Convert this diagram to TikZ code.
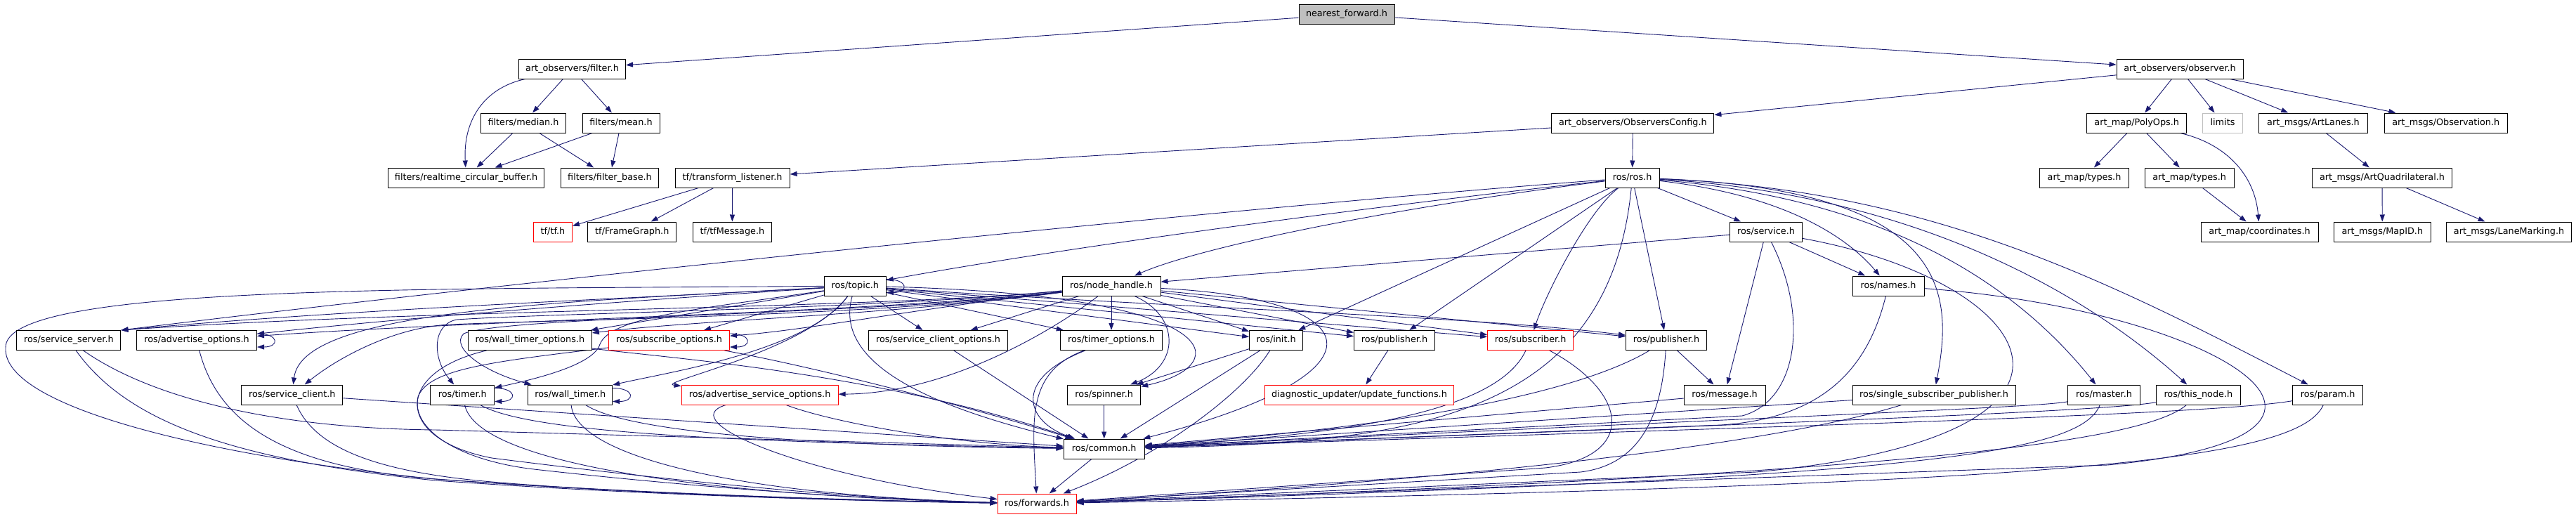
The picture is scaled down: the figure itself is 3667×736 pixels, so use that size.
\documentclass[tikz,border=0pt]{standalone}
\usepackage{fontspec}
\setmainfont{DejaVu Sans}
\usetikzlibrary{arrows.meta}
\definecolor{edgec}{HTML}{191970}
\definecolor{greyf}{HTML}{BFBFBF}
\definecolor{redb}{HTML}{FF0000}
\pgfdeclarelayer{bg}
\pgfsetlayers{bg,main}
\tikzset{
  filebox/.style={draw=black, line width=1pt, fill=white, minimum height=28pt,
    inner xsep=2pt, inner ysep=0pt, text height=9.7pt, text depth=3pt,
    font=\fontsize{12.8}{14}\selectfont, text=black},
  redbox/.style={filebox, draw=redb},
  conn/.style={draw=edgec, line width=0.9pt, -{Triangle[length=10pt,width=7pt]}},
}
\begin{document}
\begin{tikzpicture}[x=1pt,y=-1pt]
\useasboundingbox (0,0) rectangle (3667,736);
% ---------- nodes ----------
\node[filebox, fill=greyf, minimum width=136pt] (nf) at (1917,20.5) {nearest\_forward.h};
\node[filebox, minimum width=152pt] (filter) at (814.5,98) {art\_observers/filter.h};
\node[filebox, minimum width=180pt] (observer) at (3103,98) {art\_observers/observer.h};
\node[filebox, minimum width=121pt] (median) at (745,175) {filters/median.h};
\node[filebox, minimum width=110pt] (mean) at (884,175) {filters/mean.h};
\node[filebox, minimum width=231pt] (config) at (2324.4,175) {art\_observers/ObserversConfig.h};
\node[filebox, minimum width=142pt] (polyops) at (3041.7,175) {art\_map/PolyOps.h};
\node[filebox, draw=greyf, minimum width=57pt] (limits) at (3164,175) {limits};
\node[filebox, minimum width=155pt] (artlanes) at (3293,175) {art\_msgs/ArtLanes.h};
\node[filebox, minimum width=175pt] (observation) at (3481.7,175) {art\_msgs/Observation.h};
\node[filebox, minimum width=222pt] (rcb) at (663.6,253) {filters/realtime\_circular\_buffer.h};
\node[filebox, minimum width=139pt] (fbase) at (868,253) {filters/filter\_base.h};
\node[filebox, minimum width=163pt] (tlisten) at (1042.6,253) {tf/transform\_listener.h};
\node[filebox, minimum width=77pt] (ros) at (2323.6,253) {ros/ros.h};
\node[filebox, minimum width=127pt] (types1) at (2967,253) {art\_map/types.h};
\node[filebox, minimum width=127pt] (types2) at (3116.6,253) {art\_map/types.h};
\node[filebox, minimum width=199pt] (quad) at (3391,253) {art\_msgs/ArtQuadrilateral.h};
\node[redbox, minimum width=55pt] (tf) at (787,330) {tf/tf.h};
\node[filebox, minimum width=126pt] (fgraph) at (899.8,330) {tf/FrameGraph.h};
\node[filebox, minimum width=112pt] (tfmsg) at (1042.4,330) {tf/tfMessage.h};
\node[filebox, minimum width=103pt] (service) at (2514,330) {ros/service.h};
\node[filebox, minimum width=167pt] (coords) at (3216.5,330) {art\_map/coordinates.h};
\node[filebox, minimum width=138pt] (mapid) at (3391.3,330) {art\_msgs/MapID.h};
\node[filebox, minimum width=178pt] (lane) at (3571.5,330) {art\_msgs/LaneMarking.h};
\node[filebox, minimum width=88pt] (topic) at (1217.3,407) {ros/topic.h};
\node[filebox, minimum width=140pt] (nh) at (1582,407) {ros/node\_handle.h};
\node[filebox, minimum width=102pt] (names) at (2688,407) {ros/names.h};
\node[filebox, minimum width=148pt] (sserver) at (97.9,484.5) {ros/service\_server.h};
\node[filebox, minimum width=171pt] (advopt) at (280,484.5) {ros/advertise\_options.h};
\node[filebox, minimum width=176pt] (wto) at (754.4,484.5) {ros/wall\_timer\_options.h};
\node[redbox, minimum width=172pt] (subopt) at (952.5,484.5) {ros/subscribe\_options.h};
\node[filebox, minimum width=198pt] (sco) at (1335.6,484.5) {ros/service\_client\_options.h};
\node[filebox, minimum width=145.5pt] (topt) at (1582,484.5) {ros/timer\_options.h};
\node[filebox, minimum width=76pt] (init) at (1816.6,484.5) {ros/init.h};
\node[filebox, minimum width=115pt] (pub1) at (1985,484.5) {ros/publisher.h};
\node[redbox, minimum width=122pt] (sub) at (2178.6,484.5) {ros/subscriber.h};
\node[filebox, minimum width=115pt] (pub2) at (2372,484.5) {ros/publisher.h};
\node[filebox, minimum width=144pt] (sclient) at (415.8,562) {ros/service\_client.h};
\node[filebox, minimum width=91pt] (timer) at (658.3,562) {ros/timer.h};
\node[filebox, minimum width=120pt] (wtimer) at (811.7,562) {ros/wall\_timer.h};
\node[redbox, minimum width=223pt] (aso) at (1081.6,562) {ros/advertise\_service\_options.h};
\node[filebox, minimum width=104pt] (spinner) at (1571.7,562) {ros/spinner.h};
\node[redbox, minimum width=268.5pt] (diag) at (1935,562) {diagnostic\_updater/update\_functions.h};
\node[filebox, minimum width=116pt] (message) at (2455,562) {ros/message.h};
\node[filebox, minimum width=232pt] (ssp) at (2753,562) {ros/single\_subscriber\_publisher.h};
\node[filebox, minimum width=103pt] (master) at (2995,562) {ros/master.h};
\node[filebox, minimum width=120pt] (thisnode) at (3129.3,562) {ros/this\_node.h};
\node[filebox, minimum width=100pt] (param) at (3313.7,562) {ros/param.h};
\node[filebox, minimum width=115pt] (common) at (1571.7,639) {ros/common.h};
\node[redbox, minimum width=112pt] (fwd) at (1476,717) {ros/forwards.h};
% ---------- edges ----------
\begin{pgfonlayer}{bg}
\draw[conn] (nf) -- (filter);
\draw[conn] (nf) -- (observer);
\draw[conn] (filter) .. controls (690,125) and (659,170) .. (rcb);
\draw[conn] (filter) -- (median);
\draw[conn] (filter) -- (mean);
\draw[conn] (median) -- (rcb);
\draw[conn] (median) -- (fbase);
\draw[conn] (mean) -- (rcb);
\draw[conn] (mean) -- (fbase);
\draw[conn] (observer) -- (config);
\draw[conn] (observer) -- (polyops);
\draw[conn] (observer) -- (limits);
\draw[conn] (observer) -- (artlanes);
\draw[conn] (observer) -- (observation);
\draw[conn] (config) -- (tlisten);
\draw[conn] (config) -- (ros);
\draw[conn] (tlisten) -- (tf);
\draw[conn] (tlisten) -- (fgraph);
\draw[conn] (tlisten) -- (tfmsg);
\draw[conn] (polyops) -- (types1);
\draw[conn] (polyops) -- (types2);
\draw[conn] (polyops) .. controls (3170,205) and (3210,250) .. (coords);
\draw[conn] (types2) -- (coords);
\draw[conn] (artlanes) -- (quad);
\draw[conn] (quad) -- (mapid);
\draw[conn] (quad) -- (lane);
% ros.h
\draw[conn] (ros) .. controls (1700,300) and (700,405) .. (sserver.north east);
\draw[conn] (ros) .. controls (1900,300) and (1500,355) .. (topic);
\draw[conn] (ros) .. controls (1950,300) and (1700,355) .. (nh);
\draw[conn] (ros) -- (init);
\draw[conn] (ros) -- (pub1);
\draw[conn] (ros) .. controls (2260,300) and (2200,420) .. (sub);
\draw[conn] (ros) .. controls (2290,600) and (2000,630) .. (common);
\draw[conn] (ros) -- (pub2);
\draw[conn] (ros) -- (service);
\draw[conn] (ros) .. controls (2560,280) and (2640,350) .. (names);
\draw[conn] (ros) .. controls (2780,270) and (2780,420) .. (ssp);
\draw[conn] (ros) .. controls (2650,280) and (2850,380) .. (master);
\draw[conn] (ros) .. controls (2700,275) and (2950,400) .. (thisnode);
\draw[conn] (ros) .. controls (2750,270) and (3000,400) .. (param);
% service.h
\draw[conn] (service) -- (nh);
\draw[conn] (service) -- (names);
\draw[conn] (service) -- (message);
\draw[conn] (service) .. controls (2575,450) and (2560,570) .. (2480,592) -- (common);
\draw[conn] (service) .. controls (2900,400) and (3050,620) .. (2500,672) -- (fwd);
% names.h
\draw[conn] (names) .. controls (2660,520) and (2600,595) .. (2450,605) -- (common);
\draw[conn] (names) .. controls (3150,440) and (3450,620) .. (3000,662) -- (fwd);
% right row 7
\draw[conn] (ssp) -- (common);
\draw[conn] (ssp) .. controls (2600,610) and (2300,670) .. (fwd);
\draw[conn] (master) .. controls (2900,580) and (2600,590) .. (common);
\draw[conn] (master) .. controls (2960,650) and (2700,680) .. (fwd);
\draw[conn] (thisnode) .. controls (3000,585) and (2600,600) .. (common);
\draw[conn] (thisnode) .. controls (3050,630) and (2700,675) .. (fwd);
\draw[conn] (param) .. controls (3150,590) and (2600,605) .. (common);
\draw[conn] (param) .. controls (3270,660) and (2900,690) .. (fwd);
% subscriber / publisher
\draw[conn] (sub) .. controls (2130,590) and (1900,620) .. (common);
\draw[conn] (sub) .. controls (2320,560) and (2330,650) .. (2200,666) -- (fwd);
\draw[conn] (pub2) -- (message);
\draw[conn] (pub2) .. controls (2280,540) and (2100,600) .. (common);
\draw[conn] (pub2) .. controls (2365,600) and (2330,662) .. (2250,672) -- (fwd);
\draw[conn] (message) -- (common);
\draw[conn] (pub1) -- (diag);
% init / spinner / common
\draw[conn] (init) -- (common);
\draw[conn] (init) .. controls (1770,560) and (1650,650) .. (fwd);
\draw[conn] (init) -- (spinner);
\draw[conn] (spinner) -- (common);
\draw[conn] (common) -- (fwd);
% node_handle.h
\draw[conn] (nh) -- (topt);
\draw[conn] (nh) -- (sco);
\draw[conn] (nh) .. controls (1500,470) and (1350,560) .. (aso);
\draw[conn] (nh) .. controls (1680,450) and (1680,520) .. (spinner);
\draw[conn] (nh) .. controls (1950,425) and (1990,530) .. (common);
\draw[conn] (nh) -- (init);
\draw[conn] (nh) -- (pub1);
\draw[conn] (nh) -- (sub);
\draw[conn] (nh) -- (pub2);
\draw[conn] (nh) .. controls (1250,440) and (600,440) .. (sserver.north east);
\draw[conn] (nh) .. controls (1250,445) and (700,455) .. (advopt);
\draw[conn] (nh) .. controls (1250,450) and (1000,455) .. (wto);
\draw[conn] (nh) .. controls (1300,440) and (1150,470) .. (subopt);
\draw[conn] (nh) .. controls (1250,450) and (800,455) .. (640,462) .. controls (560,466) and (480,510) .. (sclient);
\draw[conn] (nh) .. controls (1250,440) and (800,445) .. (650,455) .. controls (615,462) and (615,510) .. (timer);
\draw[conn] (nh) .. controls (1250,448) and (720,450) .. (660,475) .. controls (640,495) and (690,530) .. (wtimer);
% topic.h
\draw[conn] (topic) -- (topt);
\draw[conn] (topic) -- (sco);
\draw[conn] (topic) -- (init);
\draw[conn] (topic) -- (pub1);
\draw[conn] (topic) -- (sub);
\draw[conn] (topic) .. controls (1700,440) and (2100,450) .. (pub2);
\draw[conn] (topic) .. controls (1750,420) and (1760,520) .. (spinner);
\draw[conn] (topic) .. controls (1185,520) and (1330,580) .. (common);
\draw[conn] (topic) .. controls (1150,500) and (930,545) .. (aso);
\draw[conn] (topic) .. controls (1000,440) and (870,450) .. (854,490) .. controls (845,520) and (760,540) .. (timer);
\draw[conn] (topic) .. controls (1150,500) and (950,530) .. (wtimer);
\draw[conn] (topic) .. controls (800,430) and (430,440) .. (sclient);
\draw[conn] (topic) .. controls (900,425) and (500,440) .. (sserver.north east);
\draw[conn] (topic) .. controls (900,428) and (600,450) .. (advopt);
\draw[conn] (topic) -- (wto);
\draw[conn] (topic) -- (subopt);
\draw[conn] (topic) .. controls (600,412) and (5,405) .. (8,495) .. controls (3,580) and (300,650) .. (620,682) .. controls (900,702) and (1200,712) .. (fwd);
% self loops
\draw[conn] ([yshift=-5pt]topic.north east) .. controls +(32,0) and +(32,0) .. ([yshift=5pt]topic.south east);
\draw[conn] ([yshift=-5pt]advopt.north east) .. controls +(32,0) and +(32,0) .. ([yshift=5pt]advopt.south east);
\draw[conn] ([yshift=-5pt]subopt.north east) .. controls +(32,0) and +(32,0) .. ([yshift=5pt]subopt.south east);
\draw[conn] ([yshift=-5pt]timer.north east) .. controls +(32,0) and +(32,0) .. ([yshift=5pt]timer.south east);
\draw[conn] ([yshift=-5pt]wtimer.north east) .. controls +(32,0) and +(32,0) .. ([yshift=5pt]wtimer.south east);
% left nodes to common / forwards
\draw[conn] (sserver) .. controls (220,570) and (400,610) .. (620,612) -- (common);
\draw[conn] (sserver) .. controls (180,600) and (330,655) .. (620,684) .. controls (900,704) and (1200,713) .. (fwd);
\draw[conn] (advopt) .. controls (310,600) and (400,665) .. (620,682) .. controls (900,703) and (1200,712) .. (fwd);
\draw[conn] (sclient) -- (common);
\draw[conn] (sclient) .. controls (450,640) and (540,672) .. (700,686) .. controls (900,703) and (1200,713) .. (fwd);
\draw[conn] (timer) .. controls (760,620) and (1100,630) .. (common);
\draw[conn] (timer) .. controls (680,660) and (1000,705) .. (fwd);
\draw[conn] (wtimer) .. controls (900,620) and (1200,635) .. (common);
\draw[conn] (wtimer) .. controls (820,650) and (1050,705) .. (fwd);
\draw[conn] (aso) .. controls (1180,600) and (1350,632) .. (common);
\draw[conn] (aso) .. controls (955,600) and (1150,680) .. (fwd);
\draw[conn] (wto) .. controls (950,510) and (1250,530) .. (common);
\draw[conn] (wto) .. controls (560,530) and (560,625) .. (700,652) .. controls (1000,690) and (1250,712) .. (fwd);
\draw[conn] (subopt) .. controls (1200,530) and (1450,600) .. (common);
\draw[conn] (subopt) .. controls (700,515) and (610,525) .. (595,565) .. controls (585,610) and (650,655) .. (760,668) .. controls (1000,695) and (1250,712) .. (fwd);
\draw[conn] (sco) -- (common);
\draw[conn] (topt) .. controls (1440,540) and (1460,600) .. (common);
\draw[conn] (topt) .. controls (1460,530) and (1470,600) .. (fwd);
\end{pgfonlayer}
\end{tikzpicture}
\end{document}
